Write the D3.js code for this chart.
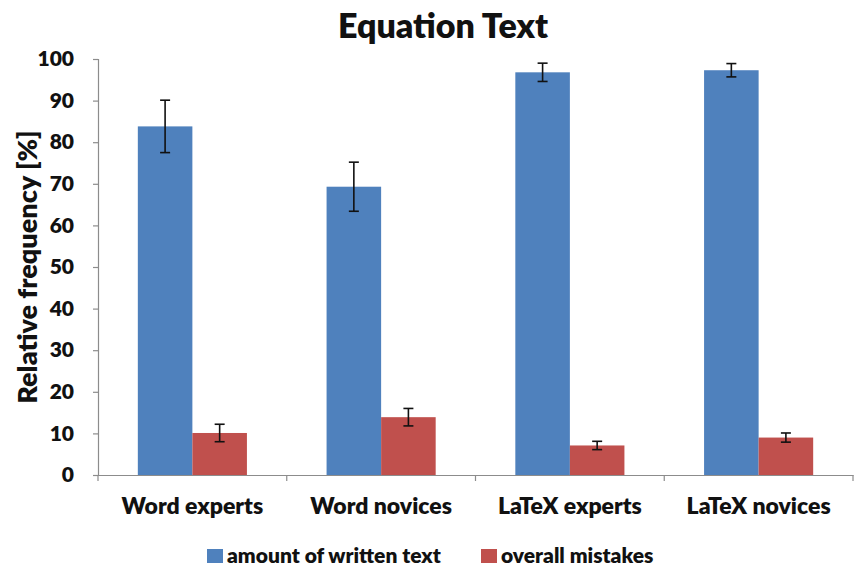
<!DOCTYPE html>
<html>
<head>
<meta charset="utf-8">
<script src="https://cdn.jsdelivr.net/npm/d3@7"></script>
<style>
  body { margin: 0; background: #fff; }
  text { font-family: Lato, "Open Sans", sans-serif; font-weight: 800; fill: #111; }
</style>
</head>
<body>
<div id="chart"></div>
<script>
// Categories and series
var categories = ["Word experts", "Word novices", "LaTeX experts", "LaTeX novices"];
var seriesNames = ["amount of written text", "overall mistakes"];
var writtenText = [83.8, 69.3, 96.8, 97.3];
var writtenTextErr = [6.3, 5.9, 2.2, 1.6];
var mistakes = [10.1, 13.9, 7.1, 9.0];
var mistakesErr = [2.1, 2.1, 1.0, 1.1];
var yTicks = [0, 10, 20, 30, 40, 50, 60, 70, 80, 90, 100];

var colors = ["#4F81BD", "#C0504D"];

var width = 855, height = 568;
var margin = { left: 98, right: 2, top: 59, bottom: 93 };

var svg = d3.select("#chart").append("svg")
    .attr("width", width)
    .attr("height", height);

// Scales
var x0 = d3.scaleBand()
    .domain(categories)
    .range([margin.left, width - margin.right])
    .paddingInner(0)
    .paddingOuter(0);

var x1 = d3.scaleBand()
    .domain([0, 1])
    .range([0, x0.bandwidth()])
    .paddingOuter(0.73)
    .paddingInner(0);

var y = d3.scaleLinear()
    .domain([0, 100])
    .range([height - margin.bottom, margin.top]);

// Build rows from the arrays
var rows = categories.map(function (c, i) {
    return [
        { cat: c, s: 0, v: writtenText[i], e: writtenTextErr[i] },
        { cat: c, s: 1, v: mistakes[i], e: mistakesErr[i] }
    ];
});

// Title
svg.append("text")
    .attr("x", 443)
    .attr("y", 38)
    .attr("text-anchor", "middle")
    .style("font-size", "34px")
    .text("Equation Text");

// Y axis
var yAxis = svg.append("g")
    .attr("transform", "translate(" + margin.left + ",0)")
    .call(d3.axisLeft(y).tickValues(yTicks).tickSize(5).tickPadding(19));
yAxis.select(".domain").attr("stroke", "#8c8c8c").attr("stroke-width", 1.2);
yAxis.selectAll(".tick line").attr("stroke", "#8c8c8c").attr("stroke-width", 1.2);
yAxis.selectAll(".tick text").style("font-size", "21px").style("font-family", "Lato, sans-serif").style("font-weight", "800").attr("fill", "#111");

// Bars
var groups = svg.selectAll(".group")
    .data(rows)
    .join("g")
    .attr("class", "group")
    .attr("transform", function (d) { return "translate(" + x0(d[0].cat) + ",0)"; });

groups.selectAll("rect")
    .data(function (d) { return d; })
    .join("rect")
    .attr("x", function (d) { return x1(d.s); })
    .attr("y", function (d) { return y(d.v); })
    .attr("width", x1.bandwidth())
    .attr("height", function (d) { return y(0) - y(d.v); })
    .attr("fill", function (d) { return colors[d.s]; });

// Error bars
var capW = 5;
groups.selectAll(".err")
    .data(function (d) { return d; })
    .join("g")
    .attr("class", "err")
    .each(function (d) {
        var g = d3.select(this);
        var cx = x1(d.s) + x1.bandwidth() / 2;
        g.append("line")
            .attr("x1", cx).attr("x2", cx)
            .attr("y1", y(d.v + d.e)).attr("y2", y(d.v - d.e));
        g.append("line")
            .attr("x1", cx - capW).attr("x2", cx + capW)
            .attr("y1", y(d.v + d.e)).attr("y2", y(d.v + d.e));
        g.append("line")
            .attr("x1", cx - capW).attr("x2", cx + capW)
            .attr("y1", y(d.v - d.e)).attr("y2", y(d.v - d.e));
    })
    .selectAll("line")
    .attr("stroke", "#111")
    .attr("stroke-width", 1.6);

// X axis
var xAxis = svg.append("g")
    .attr("transform", "translate(0," + y(0) + ")")
    .call(d3.axisBottom(x0).tickSize(0).tickPadding(23));
xAxis.select(".domain").attr("stroke", "#8c8c8c").attr("stroke-width", 1.2);
xAxis.selectAll(".tick text").style("font-size", "23px").style("font-family", "Lato, sans-serif").style("font-weight", "800").attr("fill", "#111");

// Category separator ticks
var seps = d3.range(categories.length + 1).map(function (i) {
    return i < categories.length ? x0(categories[i]) : x0.range()[1];
});
svg.selectAll(".sep")
    .data(seps)
    .join("line")
    .attr("class", "sep")
    .attr("x1", function (d) { return d; })
    .attr("x2", function (d) { return d; })
    .attr("y1", y(0))
    .attr("y2", y(0) + 6)
    .attr("stroke", "#8c8c8c")
    .attr("stroke-width", 1.2);

// Y axis label
svg.append("text")
    .attr("transform", "translate(37,267) rotate(-90)")
    .attr("text-anchor", "middle")
    .style("font-size", "27px")
    .text("Relative frequency [%]");

// Legend
var legendX = [207, 481];
var legend = svg.selectAll(".legend")
    .data(seriesNames)
    .join("g")
    .attr("class", "legend")
    .attr("transform", function (d, i) { return "translate(" + legendX[i] + ",549)"; });
legend.append("rect")
    .attr("width", 16)
    .attr("height", 14)
    .attr("fill", function (d, i) { return colors[i]; });
legend.append("text")
    .attr("x", 20)
    .attr("y", 14)
    .style("font-size", "21px")
    .text(function (d) { return d; });
</script>
</body>
</html>
